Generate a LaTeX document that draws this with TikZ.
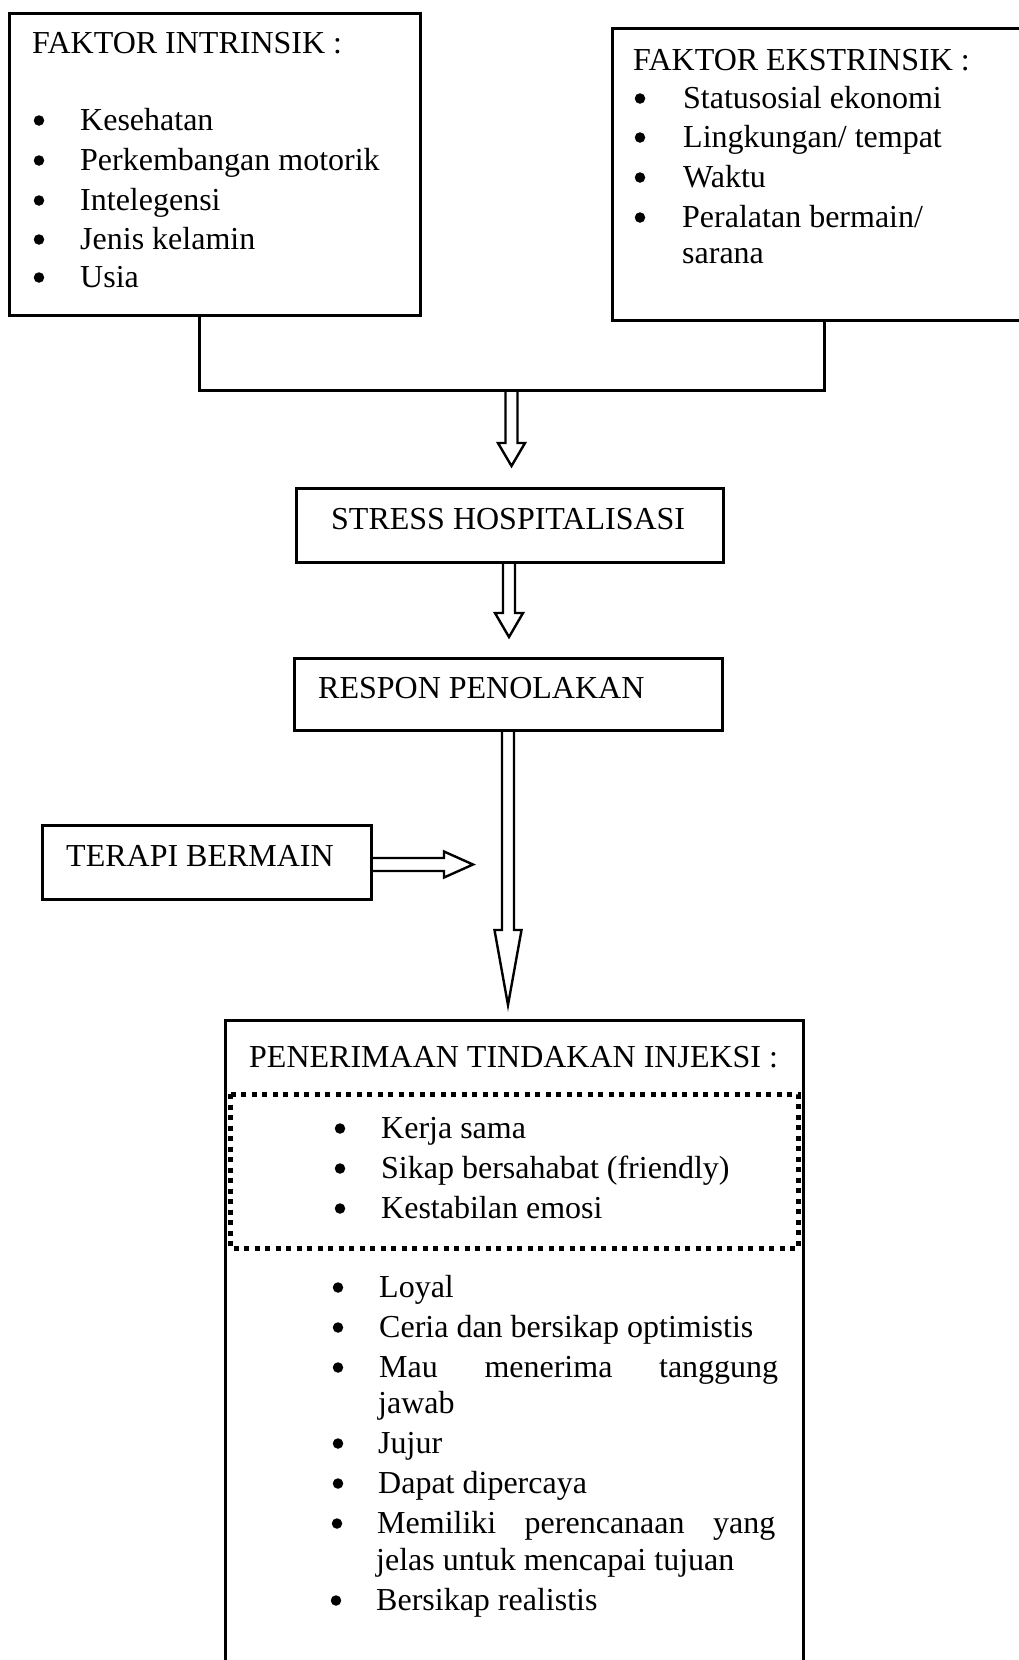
\documentclass[tikz,border=0pt]{standalone}
\usepackage{fontspec}
\setmainfont{Liberation Serif}
\usetikzlibrary{calc}
\newcommand\hollowdown[5]{%
  \draw[harrow] let \p1=(#1), \p2=(#2) in
    (\x1-#3pt,\y1) -- (\x1-#3pt,\y2+#5pt) -- (\x1-#4pt,\y2+#5pt) -- (\x1,\y2)
    -- (\x1+#4pt,\y2+#5pt) -- (\x1+#3pt,\y2+#5pt) -- (\x1+#3pt,\y1);}
\newcommand\hollowright[5]{%
  \draw[harrow] let \p1=(#1), \p2=(#2) in
    (\x1,\y1+#3pt) -- (\x2-#5pt,\y1+#3pt) -- (\x2-#5pt,\y1+#4pt) -- (\x2,\y1)
    -- (\x2-#5pt,\y1-#4pt) -- (\x2-#5pt,\y1-#3pt) -- (\x1,\y1-#3pt);}
\begin{document}
\begin{tikzpicture}[x=1pt,y=-1pt,
  box/.style={draw, line width=3pt, inner sep=0pt, outer sep=0pt},
  txt/.style={anchor=base west, inner sep=0pt, font=\fontsize{32}{40}\selectfont},
  bul/.style={circle, fill, inner sep=0pt, minimum size=10.5pt, yshift=9.5pt},
  conn/.style={line width=3pt},
  harrow/.style={line width=2.4pt, line join=miter},
  dotline/.style={line width=5pt, dash pattern=on 5pt off 5.5pt}]
\clip (0,0) rectangle (1019,1660);

% boxes
\node[box, minimum width=411, minimum height=302] (intr) at (214.5,164) {};
\node[box, minimum width=408, minimum height=292] (ekstr) at (816,174) {};
\node[box, minimum width=427, minimum height=74] (stress) at (509.5,525) {};
\node[box, minimum width=428, minimum height=72] (respon) at (508,694) {};
\node[box, minimum width=329, minimum height=74] (terapi) at (206.5,862) {};
\node[box, minimum width=578, minimum height=660] (injeksi) at (514,1350) {};
\draw[dotline] (230,1094) rectangle (798,1248);

% connector joining the two factor boxes
\coordinate (jl) at (199,390);
\coordinate (jr) at (824,390);
\draw[conn] (intr.south -| jl) -- (jl) -- (jr) -- (ekstr.south -| jr);

% hollow arrows
\coordinate (a1e) at (511.5,466);
\coordinate (a2e) at (509,637);
\coordinate (a3e) at (508,1005);
\coordinate (a4e) at (473,864.5);
\hollowdown{a1e |- jl}{a1e}{6}{13.5}{23}
\hollowdown{a2e |- stress.south}{a2e}{6}{14}{24}
\hollowdown{a3e |- respon.south}{a3e}{6}{13.5}{75}
\hollowright{terapi.east |- a4e}{a4e}{6.5}{13}{29}

% FAKTOR INTRINSIK
\node[txt] (ti) at (32,53) {FAKTOR INTRINSIK :};
\node[bul] (bi1) at (39,130) {};
\node[bul] (bi2) at (39,170) {};
\node[bul] (bi3) at (39,210) {};
\node[bul] (bi4) at (39,249) {};
\node[bul] (bi5) at (39,287) {};
\node[txt] (ii1) at (80,130) {Kesehatan};
\node[txt] (ii2) at (80,170) {Perkembangan motorik};
\node[txt] (ii3) at (80,210) {Intelegensi};
\node[txt] (ii4) at (80,249) {Jenis kelamin};
\node[txt] (ii5) at (80,287) {Usia};

% FAKTOR EKSTRINSIK
\node[txt] (te) at (633,70) {FAKTOR EKSTRINSIK :};
\node[bul] (be1) at (640,108) {};
\node[bul] (be2) at (640,147) {};
\node[bul] (be3) at (640,187) {};
\node[bul] (be4) at (640,227) {};
\node[txt] (ie1) at (683,108) {Statusosial ekonomi};
\node[txt] (ie2) at (683,147) {Lingkungan/ tempat};
\node[txt] (ie3) at (683,187) {Waktu};
\node[txt] (ie4) at (682,227) {Peralatan bermain/};
\node[txt] (ie4b) at (682,263) {sarana};

% middle boxes
\node[txt] (ts) at (331,529) {STRESS HOSPITALISASI};
\node[txt] (tr) at (318,698) {RESPON PENOLAKAN};
\node[txt] (tt) at (66,866) {TERAPI BERMAIN};

% PENERIMAAN
\node[txt] (tp) at (249,1067) {PENERIMAAN TINDAKAN INJEKSI :};
\node[bul] (bp1) at (340,1138) {};
\node[bul] (bp2) at (340,1178) {};
\node[bul] (bp3) at (340,1218) {};
\node[txt] (ip1) at (381,1138) {Kerja sama};
\node[txt] (ip2) at (381,1178) {Sikap bersahabat (friendly)};
\node[txt] (ip3) at (381,1218) {Kestabilan emosi};

\node[bul] (bq1) at (338,1297) {};
\node[bul] (bq2) at (338,1337) {};
\node[bul] (bq3) at (338,1377) {};
\node[bul] (bq4) at (338,1453) {};
\node[bul] (bq5) at (338,1493) {};
\node[bul] (bq6) at (337,1533) {};
\node[bul] (bq7) at (336,1610) {};
\node[txt] (iq1) at (379,1297) {Loyal};
\node[txt] (iq2) at (379,1337) {Ceria dan bersikap optimistis};
\node[txt] (iq3) at (379,1377) {\hbox to 399pt{Mau\hfill menerima\hfill tanggung}};
\node[txt] (iq3b) at (378,1413) {jawab};
\node[txt] (iq4) at (378,1453) {Jujur};
\node[txt] (iq5) at (378,1493) {Dapat dipercaya};
\node[txt] (iq6) at (377,1533) {\hbox to 398pt{Memiliki\hfill perencanaan\hfill yang}};
\node[txt] (iq6b) at (376,1570) {jelas untuk mencapai tujuan};
\node[txt] (iq7) at (376,1610) {Bersikap realistis};
\end{tikzpicture}
\end{document}
